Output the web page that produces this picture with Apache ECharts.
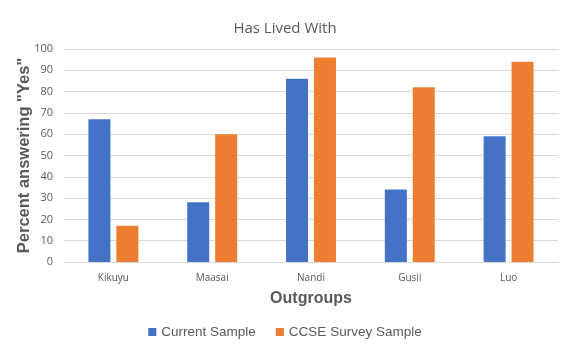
<!DOCTYPE html>
<html>
<head>
<meta charset="utf-8">
<script src="https://cdn.jsdelivr.net/npm/echarts@6/dist/echarts.min.js"></script>
<style>
  html, body { margin: 0; padding: 0; background: #fff; }
  #chart { width: 570px; height: 354px; }
</style>
</head>
<body>
<div id="chart"></div>
<script>
var categories = ['Kikuyu', 'Maasai', 'Nandi', 'Gusii', 'Luo']
var currentSample = [67, 28, 86, 34, 59]
var ccseSample = [17, 60, 96, 82, 94]

var chart = echarts.init(document.getElementById('chart'))
chart.setOption({
  animation: false,
  title: {
    text: 'Has Lived With',
    left: 'center',
    top: 16,
    textStyle: { fontFamily: 'Open Sans', fontSize: 15, fontWeight: 'normal', color: '#595959' }
  },
  grid: { left: 64, right: 12, top: 49, bottom: 92 },
  legend: {
    data: ['Current Sample', 'CCSE Survey Sample'],
    bottom: 10,
    left: 'center',
    itemWidth: 8,
    itemHeight: 8,
    itemGap: 20,
    icon: 'rect',
    textStyle: { fontFamily: 'Liberation Sans', fontSize: 13.5, color: '#595959' }
  },
  xAxis: {
    type: 'category',
    data: categories,
    name: 'Outgroups',
    nameLocation: 'middle',
    nameGap: 29,
    nameTextStyle: { fontFamily: 'Liberation Sans', fontSize: 16, fontWeight: 'bold', color: '#595959' },
    axisLine: { lineStyle: { color: '#d9d9d9' } },
    axisTick: { show: false },
    axisLabel: { fontFamily: 'Open Sans', fontSize: 10, color: '#595959', margin: 11 }
  },
  yAxis: {
    type: 'value',
    min: 0,
    max: 100,
    interval: 10,
    name: 'Percent answering "Yes"',
    nameLocation: 'middle',
    nameGap: 31,
    nameMoveOverlap: false,
    nameTextStyle: { fontFamily: 'Liberation Sans', fontSize: 16.5, fontWeight: 'bold', color: '#595959' },
    axisLine: { show: false },
    axisTick: { show: false },
    axisLabel: { fontFamily: 'Open Sans', fontSize: 11, color: '#595959', margin: 11 },
    splitLine: { lineStyle: { color: '#d9d9d9' } }
  },
  series: [
    {
      name: 'Current Sample',
      type: 'bar',
      data: currentSample,
      barWidth: 22,
      barGap: '27%',
      itemStyle: { color: '#4472C4' }
    },
    {
      name: 'CCSE Survey Sample',
      type: 'bar',
      data: ccseSample,
      barWidth: 22,
      itemStyle: { color: '#ED7D31' }
    }
  ]
})
</script>
</body>
</html>
